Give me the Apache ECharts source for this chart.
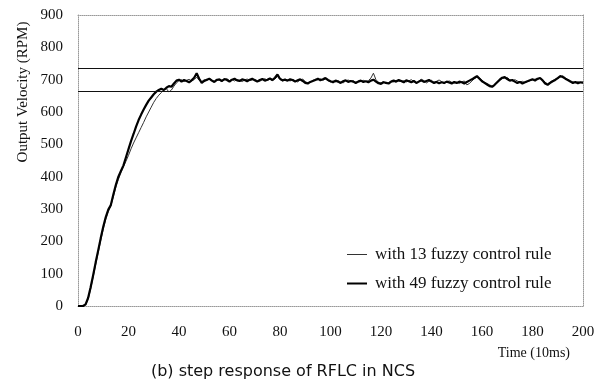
<!DOCTYPE html>
<html>
<head>
<meta charset="utf-8">
<script src="https://cdn.jsdelivr.net/npm/echarts@6/dist/echarts.min.js"></script>
<style>html,body{margin:0;padding:0;background:#fff}#c{width:608px;height:383px}</style>
</head>
<body>
<div id="c"></div>
<script>
const timeSteps = Array.from({length: 201}, (_, i) => i);
const rule49 = [0,0,0,5,25,58,95,135,172,210,245,275,298,312,345,375,400,418,435,460,
485,510,532,555,575,592,608,622,635,645,655,663,668,672,668,675,680,678,688,697,
700,694,699,696,692,698,706,720,703,690,696,700,703,697,693,699,701,696,702,699,
694,700,703,698,696,701,699,695,700,703,698,694,699,702,697,700,704,699,706,716,
703,698,700,697,701,699,694,698,701,696,690,688,693,696,699,703,698,701,705,699,
695,692,697,694,690,695,698,693,696,694,690,694,697,693,695,692,697,700,694,689,
687,692,690,688,694,697,694,699,696,692,698,695,692,696,690,694,698,693,696,699,
694,690,693,689,692,690,694,691,688,693,690,694,692,688,693,697,701,706,711,703,
695,690,685,680,678,684,692,700,706,708,702,697,699,694,690,693,688,692,695,698,
701,697,703,705,698,688,684,690,695,699,705,711,708,703,699,694,690,693,689,692,690];
const rule13 = [0,0,0,3,20,52,90,128,165,202,238,268,292,310,338,368,392,412,430,448,
466,486,504,520,536,552,568,585,600,615,630,642,652,660,668,672,662,668,680,690,
697,700,694,698,701,696,700,708,698,694,700,697,702,699,695,702,698,694,700,703,
697,701,696,700,698,694,699,702,697,699,701,697,695,700,703,698,701,697,702,710,
700,696,702,699,696,700,697,693,699,702,694,690,692,698,701,699,703,698,702,697,
693,696,693,697,693,690,696,699,694,697,692,696,694,698,694,697,705,720,700,692,
690,694,688,691,695,693,698,695,694,697,693,696,700,694,689,696,701,697,690,695,
698,692,695,699,694,688,693,696,692,689,692,688,693,696,684,688,696,703,708,706,
698,692,688,684,680,683,690,697,703,705,707,700,696,700,696,692,695,690,694,697,
699,702,700,704,700,692,687,693,697,701,704,708,712,706,700,697,693,690,694,691,693];
const limitLines = [735, 665];
const seriesNames = ['with 13 fuzzy control rule', 'with 49 fuzzy control rule'];
const yTitle = 'Output Velocity (RPM)';
const xTitle = 'Time (10ms)';
const caption = '(b) step response of RFLC in NCS';

const serif = 'Liberation Serif';
const dotted = {show: true, onZero: false, lineStyle: {color: '#999', type: 'dotted', width: 1}};
const chart = echarts.init(document.getElementById('c'), null, {renderer: 'canvas'});
chart.setOption({
  animation: false,
  backgroundColor: '#fff',
  grid: {left: 78, right: 25, top: 15, bottom: 77, containLabel: false},
  legend: {
    orient: 'vertical', left: 342, top: 241, itemWidth: 20, itemHeight: 14, itemGap: 12,
    symbolKeepAspect: true,
    textStyle: {fontFamily: serif, fontSize: 17, color: '#111', padding: [0,0,0,3]},
    data: [
      {name: seriesNames[0], icon: 'path://M0,0 H20 V1 H0 Z'},
      {name: seriesNames[1], icon: 'path://M0,0 H20 V2 H0 Z'}
    ]
  },
  xAxis: [{
    type: 'value', min: 0, max: 200, interval: 20,
    axisLine: dotted, axisTick: {show: false}, splitLine: {show: false},
    axisLabel: {fontFamily: serif, fontSize: 15, color: '#111', margin: 19}
  }, {
    type: 'value', min: 0, max: 200, position: 'top',
    axisLine: dotted, axisTick: {show: false}, axisLabel: {show: false}, splitLine: {show: false}
  }],
  yAxis: [{
    type: 'value', min: 0, max: 900, interval: 100,
    axisLine: dotted, axisTick: {show: false}, splitLine: {show: false},
    axisLabel: {fontFamily: serif, fontSize: 15, color: '#111', margin: 15}
  }, {
    type: 'value', min: 0, max: 900, position: 'right',
    axisLine: dotted, axisTick: {show: false}, axisLabel: {show: false}, splitLine: {show: false}
  }],
  graphic: [
    {type: 'text', rotation: Math.PI/2, x: 23, y: 92,
     style: {text: yTitle, font: '15px "Liberation Serif"', fill: '#111', align: 'center', verticalAlign: 'middle'}},
    {type: 'text', x: 570, y: 353,
     style: {text: xTitle, font: '14px "Liberation Serif"', fill: '#111', align: 'right', verticalAlign: 'middle'}},
    {type: 'text', x: 283, y: 372,
     style: {text: caption, font: '16px "DejaVu Sans"', fill: '#111', align: 'center', verticalAlign: 'middle'}}
  ],
  series: [{
    name: seriesNames[0], type: 'line', symbol: 'none', z: 3,
    data: timeSteps.map((t, i) => [t, rule13[i]]),
    lineStyle: {color: '#333', width: 1}, itemStyle: {color: '#333'}
  }, {
    name: seriesNames[1], type: 'line', symbol: 'none', z: 4,
    data: timeSteps.map((t, i) => [t, rule49[i]]),
    lineStyle: {color: '#000', width: 2.2}, itemStyle: {color: '#000'},
    markLine: {
      silent: true, symbol: 'none', label: {show: false},
      lineStyle: {color: '#111', type: 'solid', width: 1.2},
      data: limitLines.map(v => ({yAxis: v}))
    }
  }]
});
</script>
</body>
</html>
